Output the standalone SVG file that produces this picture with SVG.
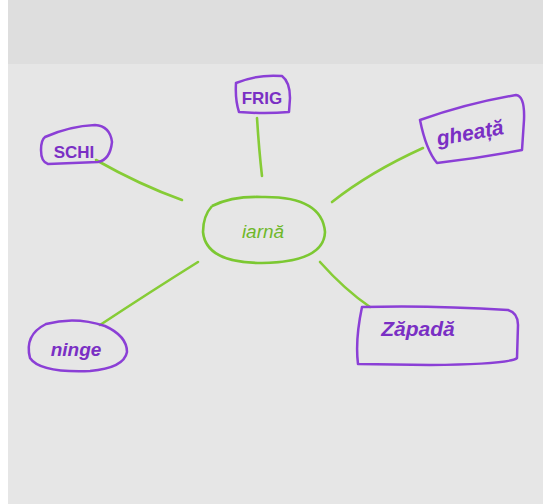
<svg xmlns="http://www.w3.org/2000/svg" width="543" height="504" viewBox="0 0 543 504">
<style>
.box{fill:none;stroke:#8b3fd6;stroke-width:2.5;stroke-linejoin:round;stroke-linecap:round}
.ctr{fill:none;stroke:#7cc832;stroke-width:2.6}
.lbl{font-family:"Liberation Sans",Arial,sans-serif;fill:#7a2fc4;text-anchor:middle}
.clbl{font-family:"Liberation Sans",Arial,sans-serif;fill:#6fb82a;text-anchor:middle}
.con{stroke:#86cc36;stroke-width:2.6;fill:none;stroke-linecap:round}
</style>
<rect x="0" y="0" width="543" height="504" fill="#dedede"/>
<rect x="8" y="64" width="535" height="440" fill="#e6e6e6"/>
<rect x="0" y="0" width="8" height="504" fill="#ffffff"/>
<g id="connectors">
<path class="con" d="M96,160 Q140,185 182,200"/>
<path class="con" d="M257,118 Q259,150 262,176"/>
<path class="con" d="M423,148 Q370,172 332,202"/>
<path class="con" d="M198,262 Q150,292 100,325"/>
<path class="con" d="M320,262 Q345,290 370,307"/>
</g>
<g id="center">
<path class="ctr" d="M212,206 Q232,196 262,197 Q322,196 325,232 Q324,262 262,263 Q206,263 203,232 Q203,216 212,206"/>
<text class="clbl" x="263" y="238" font-size="19" font-style="italic">iarnă</text>
</g>
<g id="schi">
<path class="box" d="M45,137 Q70,126 95,125 Q110,126 112,142 Q110,160 98,162 L48,164 Q41,162 41,150 Q41,140 45,137"/>
<text class="lbl" x="74" y="158" font-size="17" font-weight="bold">SCHI</text>
</g>
<g id="frig">
<path class="box" d="M236,83 Q258,74 282,76 Q290,82 290,98 L289,112 Q265,114 239,112 Q235,100 236,83"/>
<text class="lbl" x="262" y="104" font-size="17" font-weight="bold">FRIG</text>
</g>
<g id="gheata">
<path class="box" d="M420,120 Q468,103 516,95 Q525,96 524,120 L522,150 Q480,158 437,163 Q426,150 420,120"/>
<text class="lbl" x="470" y="140" font-size="21" font-weight="bold" font-style="italic" transform="rotate(-10 470 133)">gheață</text>
</g>
<g id="ninge">
<path class="box" d="M46,324 Q75,316 105,326 Q127,336 127,352 Q124,368 90,371 Q40,373 30,358 Q24,335 46,324"/>
<text class="lbl" x="76" y="356" font-size="19" font-weight="bold" font-style="italic">ninge</text>
</g>
<g id="zapada">
<path class="box" d="M362,307 Q430,305 508,310 Q518,313 518,325 L517,358 Q511,364 430,365 L358,364 Q355,340 362,307"/>
<text class="lbl" x="418" y="336" font-size="21" font-weight="bold" font-style="italic">Zăpadă</text>
</g>
</svg>
